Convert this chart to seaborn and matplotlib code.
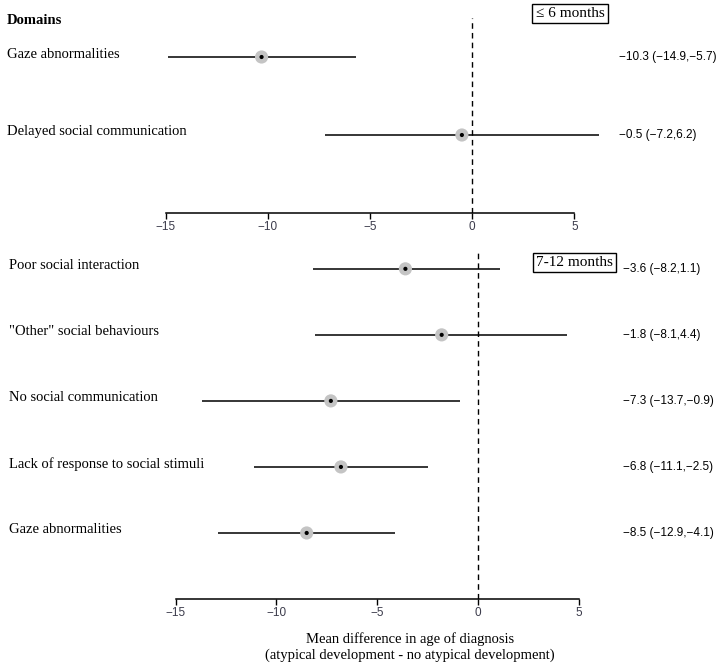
import matplotlib
matplotlib.use("Agg")
import matplotlib.pyplot as plt
import matplotlib.transforms as mtransforms
import seaborn as sns
import pandas as pd

# ---- data ----
top_labels = ["Gaze abnormalities", "Delayed social communication"]
top_mean = [-10.3, -0.5]
top_low = [-14.9, -7.2]
top_high = [-5.7, 6.2]

bot_labels = ["Poor social interaction", "\"Other\" social behaviours",
              "No social communication", "Lack of response to social stimuli",
              "Gaze abnormalities"]
bot_mean = [-3.6, -1.8, -7.3, -6.8, -8.5]
bot_low = [-8.2, -8.1, -13.7, -11.1, -12.9]
bot_high = [1.1, 4.4, -0.9, -2.5, -4.1]

x_ticks = [-15, -10, -5, 0, 5]
panel_titles = ["\u2264 6 months", "7-12 months"]
header = "Domains"
xlabel = "Mean difference in age of diagnosis\n(atypical development - no atypical development)"

sns.set_theme(style="ticks")
plt.rcParams['font.family'] = ['Liberation Serif', 'DejaVu Serif']

W, H = 717, 666
fig = plt.figure(figsize=(W / 100, H / 100), dpi=100)


def fx(px):
    return px / W


def fy(py):
    return 1 - py / H


def fmt(v):
    return f"{v:.1f}".replace("-", "\u2212")


def panel(ax, labels, mean, low, high, label_x, annot_x, ylim, title, title_xy):
    rows = list(range(len(labels)))
    df = pd.DataFrame({"row": rows, "mean": mean, "low": low, "high": high})
    ax.hlines(df["row"], df["low"], df["high"], color="black", lw=1.1,
              clip_on=False, zorder=2)
    sns.scatterplot(data=df, x="mean", y="row", ax=ax, s=90, color="#c4c4c4",
                    edgecolor="none", zorder=3, clip_on=False, legend=False)
    sns.scatterplot(data=df, x="mean", y="row", ax=ax, s=9, color="black",
                    edgecolor="none", zorder=4, clip_on=False, legend=False)
    ax.axvline(0, color="black", lw=1.0, ls=(0, (4, 3)), zorder=1)
    ax.set_xlim(-15, 5)
    ax.set_ylim(*ylim)
    ax.set_xticks(x_ticks)
    ax.set_xticklabels([fmt(t).replace(".0", "") for t in x_ticks],
                       family="Liberation Sans", fontsize=8.5, color="#3b3b4b")
    ax.set_yticks([])
    ax.set_xlabel("")
    ax.set_ylabel("")
    for s in ["left", "right", "top"]:
        ax.spines[s].set_visible(False)
    ax.spines["bottom"].set_linewidth(1.1)
    ax.spines["bottom"].set_color("black")
    ax.tick_params(axis="x", direction="out", length=4, width=1.0,
                   color="black", pad=2)
    ax.patch.set_alpha(0)

    trans = mtransforms.blended_transform_factory(fig.transFigure, ax.transData)
    lab_trans = trans + mtransforms.ScaledTranslation(0, 3 / 100, fig.dpi_scale_trans)
    for r, lab, m, lo, hi in zip(rows, labels, mean, low, high):
        ax.text(fx(label_x), r, lab, transform=lab_trans, ha="left", va="center",
                fontsize=10.5, color="black")
        ax.text(fx(annot_x), r, f"{fmt(m)} ({fmt(lo)},{fmt(hi)})",
                transform=trans, ha="left", va="center",
                family="Liberation Sans", fontsize=8.5, color="black")
    fig.text(fx(title_xy[0]), fy(title_xy[1]), title, ha="center", va="center",
             fontsize=11, color="black",
             bbox=dict(boxstyle="square,pad=0.22", fc="white", ec="black", lw=1.0))


# top panel: x -15..5 at px 165.5..574.3 ; y px 18..213
ax1 = fig.add_axes([fx(165.5), fy(213), fx(574.3 - 165.5), (213 - 18) / H])
panel(ax1, top_labels, top_mean, top_low, top_high, 7, 619,
      (2.0, -0.5), panel_titles[0], (570, 13.5))

# bottom panel: x -15..5 at px 175.7..578.7 ; y px 251..599
ax2 = fig.add_axes([fx(175.7), fy(599), fx(578.7 - 175.7), (599 - 251) / H])
panel(ax2, bot_labels, bot_mean, bot_low, bot_high, 9, 623,
      (5.0, -0.27), panel_titles[1], (574.5, 262.5))

fig.text(fx(7), fy(21), header, ha="left", va="center", fontsize=10.5,
         fontweight="bold", color="black")
fig.text(fx(410), fy(647.5), xlabel, ha="center", va="center", fontsize=10.5,
         color="black", linespacing=1.25)

fig.savefig("out.png", dpi=100)
